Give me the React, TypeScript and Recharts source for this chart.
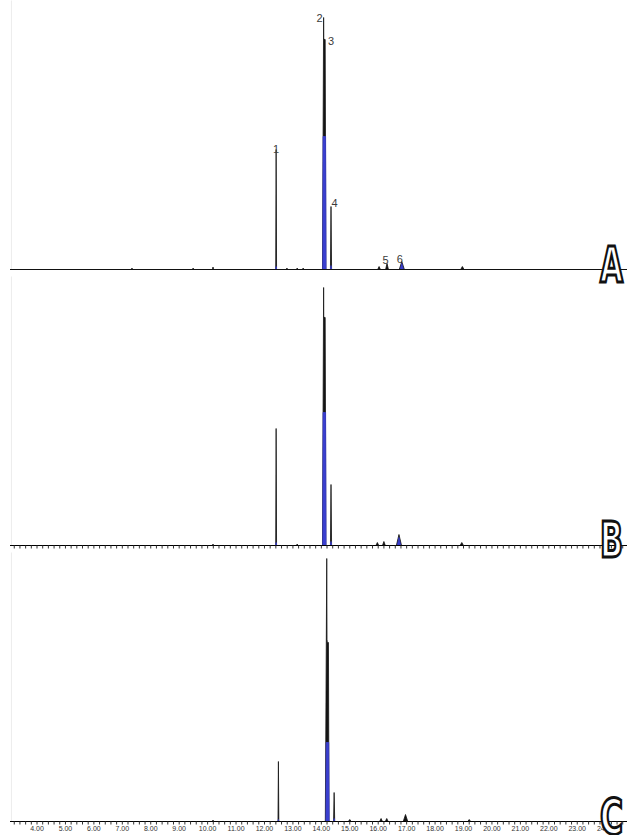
import { ComposedChart, Area, XAxis, YAxis, ReferenceDot, ReferenceLine } from "recharts";

type Pt = [number, number];

// retention time window (min) and tick marks
const T_START = 3.05;
const T_END = 24.75;
const MAJOR_TICKS = [4, 5, 6, 7, 8, 9, 10, 11, 12, 13, 14, 15, 16, 17, 18, 19, 20, 21, 22, 23, 24];
const MINOR_STEP = 0.2;
const minorTicks = Array.from({ length: 108 }, (_, i) => Math.round((3.2 + i * MINOR_STEP) * 10) / 10);

// relative abundance (black = TIC, blue = overlaid channel)
const traceA: Pt[] = [
  [3.05, 0], [7.32, 0], [7.34, 1.5], [7.36, 0], [9.47, 0], [9.49, 1.5], [9.51, 0],
  [10.17, 0], [10.19, 2.5], [10.21, 0], [12.395, 0], [12.41, 120], [12.425, 0],
  [12.77, 0], [12.79, 1.5], [12.81, 0], [13.13, 0], [13.15, 1.5], [13.17, 0],
  [13.34, 0], [13.36, 1.5], [13.38, 0],
  [14.04, 0], [14.08, 252], [14.085, 232], [14.09, 230], [14.135, 230], [14.16, 0],
  [14.32, 0], [14.34, 63], [14.36, 0], [15.98, 0], [16.03, 3], [16.08, 0],
  [16.26, 0], [16.31, 6], [16.36, 0], [16.74, 0], [16.83, 8], [16.92, 0],
  [18.9, 0], [18.96, 3], [19.02, 0], [24.75, 0],
];
const blueA: Pt[][] = [
  [[12.39, 0], [12.41, 3], [12.43, 0]],
  [[14.05, 0], [14.06, 133], [14.15, 133], [14.165, 0]],
  [[14.32, 0], [14.34, 4], [14.36, 0]],
  [[16.77, 0], [16.83, 6], [16.89, 0]],
];

const traceB: Pt[] = [
  [3.05, 0], [10.17, 0], [10.19, 1.5], [10.21, 0], [12.395, 0], [12.41, 117], [12.425, 0],
  [13.13, 0], [13.15, 1.5], [13.17, 0],
  [14.04, 0], [14.08, 258], [14.085, 230], [14.09, 228], [14.135, 228], [14.16, 0],
  [14.32, 0], [14.34, 61], [14.36, 0], [15.92, 0], [15.97, 3], [16.02, 0],
  [16.15, 0], [16.2, 4], [16.25, 0], [16.64, 0], [16.73, 11], [16.82, 0],
  [18.88, 0], [18.94, 3], [19.0, 0], [24.75, 0],
];
const blueB: Pt[][] = [
  [[12.39, 0], [12.41, 3], [12.43, 0]],
  [[14.05, 0], [14.06, 133], [14.15, 133], [14.165, 0]],
  [[14.32, 0], [14.34, 4], [14.36, 0]],
  [[16.67, 0], [16.73, 8], [16.79, 0]],
];

const traceC: Pt[] = [
  [3.05, 0], [10.17, 0], [10.19, 1.5], [10.21, 0], [12.475, 0], [12.49, 60], [12.505, 0],
  [14.14, 0], [14.19, 263], [14.2, 182], [14.21, 179], [14.25, 179], [14.27, 0],
  [14.43, 0], [14.45, 29], [14.47, 0], [14.95, 0], [15.0, 2], [15.05, 0],
  [16.05, 0], [16.1, 3], [16.15, 0], [16.25, 0], [16.3, 3], [16.35, 0],
  [16.88, 0], [16.96, 7], [17.04, 0], [19.15, 0], [19.2, 2], [19.25, 0], [24.75, 0],
];
const blueC: Pt[][] = [
  [[12.47, 0], [12.49, 2], [12.51, 0]],
  [[14.16, 0], [14.17, 79], [14.26, 79], [14.275, 0]],
  [[14.43, 0], [14.45, 3], [14.47, 0]],
];

// peak numbers in panel A, anchored on the peak apex
const peakLabelsA = [
  { name: "1", t: 12.41, v: 120, dx: 0, dy: -1 },
  { name: "2", t: 14.08, v: 252, dx: -4, dy: 0 },
  { name: "3", t: 14.135, v: 230, dx: 6, dy: 1 },
  { name: "4", t: 14.34, v: 63, dx: 3.5, dy: -4 },
  { name: "5", t: 16.31, v: 6, dx: -1.5, dy: -4 },
  { name: "6", t: 16.83, v: 8, dx: -2, dy: -3 },
];

const BLACK = "#141414";
const BLUE = "#3a3fcf";

type Row = { t: number; [key: string]: number };

function buildRows(black: Pt[], bluePeaks: Pt[][]): Row[] {
  const map = new Map<number, Row>();
  const put = (t: number, key: string, v: number) => {
    const r = map.get(t) ?? { t };
    r[key] = v;
    map.set(t, r);
  };
  black.forEach(([t, v]) => put(t, "black", v));
  bluePeaks.forEach((peak, i) => peak.forEach(([t, v]) => put(t, `blue${i}`, v)));
  return [...map.values()].sort((a, b) => a.t - b.t);
}

const AxisTick = (props: any) => {
  const { x, y, payload, showLabel } = props;
  const v = payload.value as number;
  const major = Math.abs(v - Math.round(v)) < 1e-6 && MAJOR_TICKS.includes(Math.round(v));
  if (!showLabel || !major) return <g />;
  return (
    <text
      x={x}
      y={y}
      dy="0.71em"
      textAnchor="middle"
      fontSize={7}
      fontFamily="'Liberation Sans Narrow', Arial, sans-serif"
      fill="#333"
    >
      {v.toFixed(2)}
    </text>
  );
};

interface PanelProps {
  rows: Row[];
  bluePeaks: number;
  top: number;
  height: number;
  ticks: "none" | "marks" | "labels";
  labels?: typeof peakLabelsA;
}

function Panel({ rows, bluePeaks, top, height, ticks, labels = [] }: PanelProps) {
  const axisHeight = ticks === "labels" ? 14 : ticks === "marks" ? 4 : 0;
  return (
    <div style={{ position: "absolute", left: 0, top }}>
      <ComposedChart
        width={627}
        height={height}
        data={rows}
        margin={{ top: 0.5, right: 0, bottom: ticks === "none" ? 2.5 : 0, left: 10 }}
      >
        <XAxis
          dataKey="t"
          type="number"
          domain={[T_START, T_END]}
          allowDataOverflow
          ticks={ticks === "none" ? [] : minorTicks}
          interval={0}
          height={axisHeight}
          tickSize={3}
          tickLine={ticks === "none" ? false : { stroke: "#333" }}
          axisLine={{ stroke: "#000" }}
          tick={<AxisTick showLabel={ticks === "labels"} />}
        />
        <YAxis hide domain={[0, 269]} allowDataOverflow />
        <ReferenceLine x={T_START + 0.05} stroke="#ececec" />
        <Area
          type="linear"
          dataKey="black"
          stroke={BLACK}
          strokeWidth={0.8}
          fill={BLACK}
          fillOpacity={1}
          connectNulls
          dot={false}
          activeDot={false}
          isAnimationActive={false}
        />
        {Array.from({ length: bluePeaks }, (_, i) => (
          <Area
            key={i}
            type="linear"
            dataKey={`blue${i}`}
            stroke={BLUE}
            strokeWidth={0.8}
            fill={BLUE}
            fillOpacity={1}
            connectNulls
            dot={false}
            activeDot={false}
            isAnimationActive={false}
          />
        ))}
        <ReferenceLine y={0} stroke="#111" strokeWidth={1} />
        {labels.map((l) => (
          <ReferenceDot
            key={l.name}
            x={l.t}
            y={l.v}
            shape={(p: any) => (
              <text
                x={p.cx + l.dx}
                y={p.cy + l.dy}
                textAnchor="middle"
                dominantBaseline="central"
                fontSize={11}
                fill="#3c3c3c"
                fontFamily="'Liberation Sans', Arial, sans-serif"
              >
                {l.name}
              </text>
            )}
          />
        ))}
      </ComposedChart>
    </div>
  );
}

const letterStyle = {
  fontFamily: "'Liberation Sans Narrow', 'DejaVu Sans Condensed', sans-serif",
  fontWeight: 700,
  fontSize: 49,
};

export default function App() {
  return (
    <div
      style={{
        position: "absolute",
        left: 0,
        top: 0,
        width: 627,
        height: 835,
        background: "#fff",
        overflow: "hidden",
      }}
    >
      <Panel rows={buildRows(traceA, blueA)} bluePeaks={blueA.length} top={0} height={272} ticks="none" labels={peakLabelsA} />
      <Panel rows={buildRows(traceB, blueB)} bluePeaks={blueB.length} top={276} height={273.5} ticks="marks" />
      <Panel rows={buildRows(traceC, blueC)} bluePeaks={blueC.length} top={552} height={283.5} ticks="labels" />
      <svg
        width={627}
        height={835}
        style={{ position: "absolute", left: 0, top: 0, pointerEvents: "none" }}
      >
        {[
          { letter: "A", y: 282 },
          { letter: "B", y: 557 },
          { letter: "C", y: 834 },
        ].map((p) => (
          <text
            key={p.letter}
            x={600}
            y={p.y}
            {...letterStyle}
            textLength={23}
            lengthAdjust="spacingAndGlyphs"
            fill="#fff"
            stroke="#111"
            strokeWidth={3}
            strokeLinejoin="miter"
          >
            {p.letter}
          </text>
        ))}
      </svg>
    </div>
  );
}
